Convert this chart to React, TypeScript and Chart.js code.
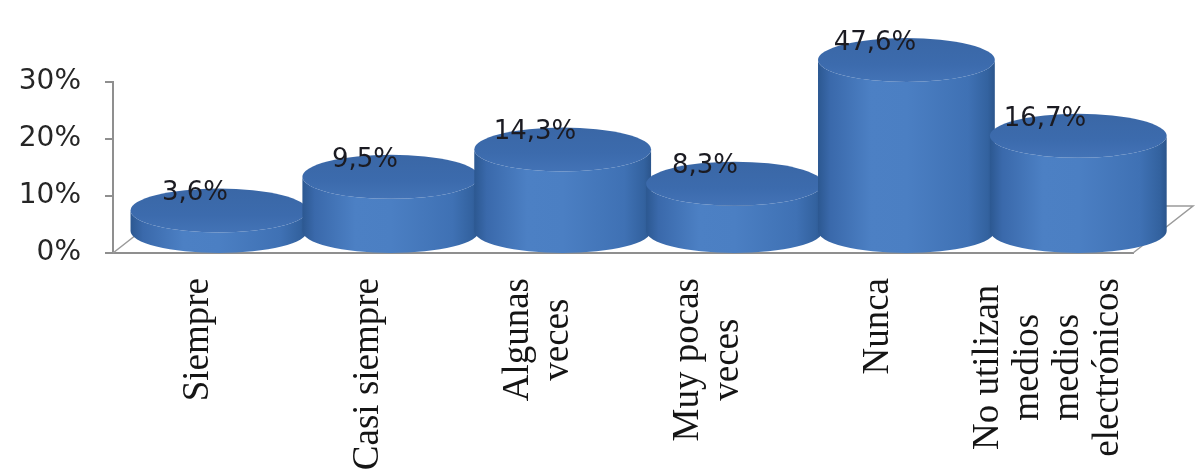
import React, { useEffect, useRef } from "react";
import { Chart, registerables } from "chart.js";

Chart.register(...registerables);

// Response categories (multi-line labels are arrays of lines)
const categories: string[][] = [
  ["Siempre"],
  ["Casi siempre"],
  ["Algunas", "veces"],
  ["Muy pocas", "veces"],
  ["Nunca"],
  ["No utilizan", "medios", "medios", "electrónicos"],
];

// Percentage of respondents per category
const values: number[] = [3.6, 9.5, 14.3, 8.3, 47.6, 16.7];

// Value axis range and tick step
const yMin = 0;
const yMax = 30;
const yStep = 10;

const formatPct = (v: number) => v.toFixed(1).replace(".", ",") + "%";

// Depth of the 3D floor (pixels) and cylinder look
const DEPTH_X = 60;
const DEPTH_Y = 47;
const ELLIPSE_RY = 22;

const floorPlugin = {
  id: "floor3d",
  beforeDatasetsDraw(chart: any) {
    const { ctx, chartArea } = chart;
    const { left, right, bottom } = chartArea;
    ctx.save();
    ctx.strokeStyle = "#9a9a9a";
    ctx.lineWidth = 1.5;
    ctx.beginPath();
    ctx.moveTo(left, bottom);
    ctx.lineTo(left + DEPTH_X, bottom - DEPTH_Y);
    ctx.lineTo(right + DEPTH_X, bottom - DEPTH_Y);
    ctx.lineTo(right, bottom);
    ctx.stroke();
    ctx.restore();
  },
};

function drawCylinder(
  ctx: CanvasRenderingContext2D,
  cx: number,
  topY: number,
  baseY: number,
  rx: number,
  ry: number
) {
  // side surface
  const side = ctx.createLinearGradient(cx - rx, 0, cx + rx, 0);
  side.addColorStop(0, "#2c5891");
  side.addColorStop(0.07, "#3a69ab");
  side.addColorStop(0.3, "#4c80c4");
  side.addColorStop(0.5, "#4b7fc3");
  side.addColorStop(0.85, "#3f71b4");
  side.addColorStop(0.96, "#33629f");
  side.addColorStop(1, "#2b558c");
  ctx.beginPath();
  ctx.moveTo(cx - rx, topY);
  ctx.lineTo(cx - rx, baseY);
  ctx.ellipse(cx, baseY, rx, ry, 0, Math.PI, 0, true);
  ctx.lineTo(cx + rx, topY);
  ctx.ellipse(cx, topY, rx, ry, 0, 0, Math.PI, false);
  ctx.closePath();
  ctx.fillStyle = side;
  ctx.fill();

  // top cap
  const top = ctx.createLinearGradient(0, topY - ry, 0, topY + ry);
  top.addColorStop(0, "#3a67a6");
  top.addColorStop(0.6, "#3c6bad");
  top.addColorStop(1, "#4373b6");
  ctx.beginPath();
  ctx.ellipse(cx, topY, rx, ry, 0, 0, Math.PI * 2);
  ctx.fillStyle = top;
  ctx.fill();
}

const cylinderPlugin = {
  id: "cylinders",
  afterDatasetsDraw(chart: any) {
    const { ctx } = chart;
    const yScale = chart.scales.y;
    const xScale = chart.scales.x;
    const meta = chart.getDatasetMeta(0);
    const catWidth = (xScale.right - xScale.left) / values.length;
    ctx.save();
    meta.data.forEach((bar: any, i: number) => {
      const v = values[i];
      const clipped = Math.min(Math.max(v, yScale.min), yScale.max);
      const frontTop = yScale.getPixelForValue(clipped);
      const frontBase = yScale.getPixelForValue(0);
      const dx = 20 + 0.011 * (bar.x - xScale.left);
      const cx = bar.x + dx;
      const rx = catWidth * 0.52;
      drawCylinder(ctx, cx, frontTop - ELLIPSE_RY, frontBase - ELLIPSE_RY, rx, ELLIPSE_RY);
    });

    // value labels
    ctx.font = "26px 'DejaVu Sans'";
    ctx.fillStyle = "#1b1b22";
    ctx.textAlign = "center";
    ctx.textBaseline = "middle";
    meta.data.forEach((bar: any, i: number) => {
      const v = values[i];
      const clipped = Math.min(Math.max(v, yScale.min), yScale.max);
      const y = yScale.getPixelForValue(clipped) - 39;
      ctx.fillText(formatPct(v), bar.x - 3, y);
    });
    ctx.restore();
  },
};

// Category labels: rotated, lines centred, block ending just under the floor
const categoryLabelPlugin = {
  id: "categoryLabels",
  afterDraw(chart: any) {
    const { ctx, chartArea } = chart;
    const xScale = chart.scales.x;
    const lineHeight = 40;
    ctx.save();
    ctx.font = "37px 'Liberation Serif'";
    ctx.fillStyle = "#151515";
    ctx.textAlign = "center";
    ctx.textBaseline = "middle";
    categories.forEach((lines, i) => {
      const x = xScale.getPixelForValue(i);
      const widest = Math.max(...lines.map((l) => ctx.measureText(l).width));
      const topEnd = chartArea.bottom + 25;
      ctx.save();
      ctx.translate(x, topEnd + widest / 2);
      ctx.rotate(-Math.PI / 2);
      lines.forEach((line, j) => {
        ctx.fillText(line, 0, (j - (lines.length - 1) / 2) * lineHeight);
      });
      ctx.restore();
    });
    ctx.restore();
  },
};

export default function App() {
  const canvasRef = useRef<HTMLCanvasElement | null>(null);

  useEffect(() => {
    if (!canvasRef.current) return;
    const chart = new Chart(canvasRef.current, {
      type: "bar",
      data: {
        labels: categories as any,
        datasets: [
          {
            data: values,
            backgroundColor: "rgba(0,0,0,0)",
            borderWidth: 0,
            categoryPercentage: 1,
            barPercentage: 1,
          },
        ],
      },
      options: {
        responsive: false,
        animation: false,
        events: [],
        layout: { padding: { top: 82, right: 64, bottom: 219, left: 0 } },
        plugins: {
          legend: { display: false },
          tooltip: { enabled: false },
        },
        scales: {
          x: {
            type: "category",
            offset: true,
            grid: { display: false },
            ticks: { display: false },
            border: { display: true, color: "#8f8f8f", width: 2 },
            afterFit: (s: any) => {
              s.height = 0;
            },
          },
          y: {
            min: yMin,
            max: yMax,
            ticks: {
              stepSize: yStep,
              callback: (v: any) => v + "%",
              font: { family: "'DejaVu Sans'", size: 28 },
              color: "#262626",
              padding: 24,
            },
            grid: {
              drawOnChartArea: false,
              drawTicks: true,
              tickLength: 8,
              color: "#8f8f8f",
              lineWidth: 2,
            },
            border: { display: true, color: "#8f8f8f", width: 2 },
            afterFit: (s: any) => {
              s.width = 113;
            },
          },
        },
      },
      plugins: [floorPlugin, cylinderPlugin, categoryLabelPlugin],
    });
    return () => chart.destroy();
  }, []);

  return (
    <div
      style={{
        position: "fixed",
        left: 0,
        top: 0,
        width: 1197,
        height: 472,
        background: "#fff",
      }}
    >
      <canvas ref={canvasRef} width={1197} height={472} />
    </div>
  );
}
